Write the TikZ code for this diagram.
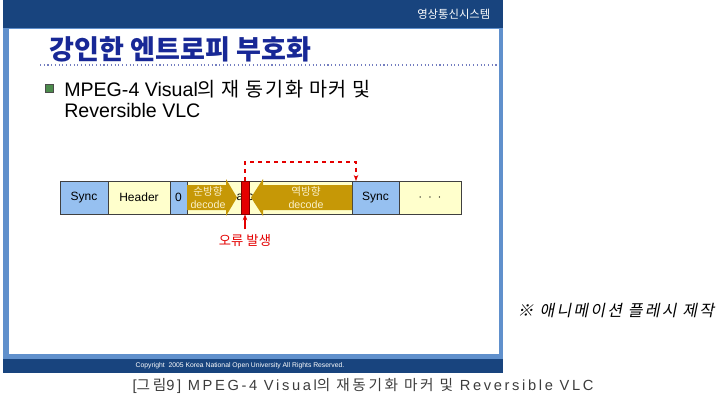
\documentclass[tikz,border=0pt]{standalone}
\usepackage{fontspec}
\setmainfont{Liberation Sans}
\newfontfamily\kr{Noto Sans CJK KR}
\newfontfamily\krwide[LetterSpace=8]{Noto Sans CJK KR}
\newfontfamily\krslant[FakeSlant=0.2, LetterSpace=14]{Noto Sans CJK KR}
\newfontfamily\capfont[LetterSpace=18]{Liberation Sans}
\newfontfamily\capkr[LetterSpace=18]{Noto Sans CJK KR}
\usepackage{tikz}
\usetikzlibrary{positioning,arrows.meta,calc}

\definecolor{framedark}{RGB}{24,68,126}
\definecolor{frameside}{RGB}{96,144,204}
\definecolor{titleblue}{RGB}{24,40,150}
\definecolor{cellblue}{RGB}{150,192,240}
\definecolor{cellyellow}{RGB}{255,255,204}
\definecolor{gold}{RGB}{198,152,6}
\definecolor{dirtxt}{RGB}{250,240,200}
\definecolor{errred}{RGB}{228,0,0}
\definecolor{captiongray}{RGB}{60,60,60}

\begin{document}
\begin{tikzpicture}[
            x=0.75pt, y=-0.75pt,
            font=\fontsize{9}{11}\selectfont,
            node distance=0pt,
            cell/.style={
                    draw=black!75, line width=0.6pt,
                    minimum height=24.75pt, inner sep=0pt, outer sep=0pt
                },
            synccell/.style={cell, fill=cellblue},
            datacell/.style={cell, fill=cellyellow},
            dirtext/.style={text=dirtxt, align=center, inner sep=0pt,
                    font=\fontsize{8}{10}\selectfont},
            errarr/.style={-{Stealth[length=1.6mm]}, draw=errred, thick},
            ]

            \useasboundingbox (0,0) rectangle (723,401);

            % slide frame
            \fill[frameside] (3,0) rectangle (503,373);
            \fill[framedark] (3,0) rectangle (503,28);
            \fill[framedark] (3,359) rectangle (503,373);
            \fill[white] (9,29) rectangle (499,354);
            \node[anchor=east, text=white, font=\fontsize{8.5}{10}\kr] (course) at (495,14) {영상통신시스템};
            \node[text=white, font=\fontsize{5.1}{6}\selectfont] (copy) at (240,366) {Copyright\ \ 2005 Korea National Open University All Rights Reserved.};

            % title and bullet text
            \node[anchor=base west, text=titleblue, font=\fontsize{20.3}{24}\kr\bfseries] (title) at (45,59) {강인한 엔트로피 부호화};
            \draw[titleblue!60, dotted, line width=0.8pt] (40,65) -- (499,65);
            \node[draw=black!70, fill=green!35!black!70, minimum size=6pt, inner sep=0pt] (bullet) at (49,88) {};
            \node[anchor=north west, align=left, inner sep=0pt, font=\fontsize{14.7}{16}\selectfont] (point) at (64,80) {MPEG-4 Visual{\krwide 의 재 동기화 마커 및}\\Reversible VLC};

            % bit stream
            \node[synccell, minimum width=36pt, anchor=west] (sync) at (60,197.5) {Sync};
            \node[datacell, minimum width=46.5pt, right=of sync] (header) {Header};
            \node[synccell, minimum width=12.75pt, right=of header] (zero) {0};
            \node[datacell, minimum width=123.75pt, right=of zero] (data) {};
            \node[synccell, minimum width=35.25pt, right=of data] (sync2) {Sync};
            \node[datacell, minimum width=46.5pt, right=of sync2] (dots) {$\cdot\;\cdot\;\cdot$};
            \node (hidden) at (245,197.5) {arc};

            % decoding directions
            \fill[gold] (187,185) -- (226,185) -- (226,179) -- (237,197.5) -- (226,216) -- (226,210) -- (187,210) -- cycle;
            \fill[gold] (352,185) -- (263,185) -- (263,179) -- (251,197.5) -- (263,216) -- (263,210) -- (352,210) -- cycle;
            \node[dirtext] (fwd) at (208,197.5) {{\kr 순방향}\\decode};
            \node[dirtext] (bwd) at (306,197.5) {{\kr 역방향}\\decode};

            % error
            \node[fill=errred, draw=red!50!black, minimum width=6pt, minimum height=24.75pt, inner sep=0pt] (mark) at (245,197.5) {};
            \node[text=errred, font=\fontsize{10}{12}\kr] (errlbl) at (245,240) {오류 발생};
            \draw[errarr] (errlbl.north) -- (mark.south);
            \draw[errarr, line width=1.2pt, dashed] (mark.north) -- ++(0,-19) -| ([xshift=3pt]sync2.north west);

            % notes outside the slide
            \node[anchor=west, font=\fontsize{12}{14}\krslant] (note) at (513,311) {※ 애니메이션 플레시 제작};
            \node[text=captiongray, font=\fontsize{11}{13}\capfont] (caption) at (363,386) {[{\capkr 그림}9] MPEG-4 Visual{\capkr 의 재동기화 마커 및} Reversible VLC};
        \end{tikzpicture}
\end{document}
